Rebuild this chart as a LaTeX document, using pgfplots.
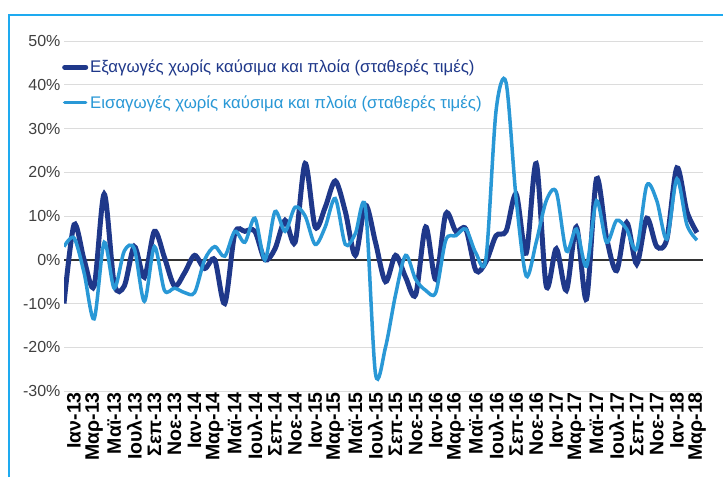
\documentclass[border=0pt]{standalone}
\usepackage{fontspec}
\setmainfont{Liberation Sans}
\usepackage{pgfplots}
\usepackage{pgfplotstable}
\pgfplotsset{compat=1.18}
\definecolor{expc}{RGB}{31,56,138}
\definecolor{impc}{RGB}{41,152,214}
\definecolor{framec}{RGB}{30,170,240}
\definecolor{gridc}{RGB}{220,220,220}
\pgfplotstableread{
i exp imp
-1 -10 3
0 8 5
1 0 -3
2 -6 -13.5
3 15 4
4 -5.5 -6.5
5 -6 2
6 3 2.5
7 -4 -9.5
8 6.5 3
9 0.5 -7
10 -6 -6.5
11 -3 -7.5
12 1 -7.5
13 -2 0
14 0 3
15 -10 0.8
16 6 6.5
17 6.5 4
18 6.5 9.5
19 0 0
20 2.5 11
21 9 6.5
22 4 12
23 22 10
24 7.5 3.5
25 12 7.5
26 18 14
27 11 3.5
28 1 6
29 12.5 12
30 4 -26
31 -5 -20
32 1 -8
33 -4 1
34 -8 -4.5
35 7.5 -7
36 -4.5 -7.5
37 10.5 4.5
38 6.5 5.5
39 7 7
40 -2.5 1.5
41 -0.5 0.3
42 5.5 34
43 6.5 40.5
44 15 14
45 1.5 -3.7
46 22 4
47 -6 13.5
48 2.5 15.5
49 -7 2
50 7.5 7
51 -9 -1.5
52 18.5 13.5
53 5 4
54 -2.5 9
55 8.5 7
56 -1 2.5
57 9.5 17
58 3 13.5
59 4.7 4.7
60 21 18.5
61 11 8
62 6.2 4.5
}\datatable
\begin{document}
\begin{tikzpicture}[x=1pt,y=1pt]
\useasboundingbox (0,0) rectangle (723,477);
\fill[white] (0,0) rectangle (723,477);
\draw[framec, line width=2pt] (9,0) -- (9,462) -- (724,462);
\begin{axis}[
  at={(64pt,86pt)}, anchor=south west, scale only axis,
  width=639pt, height=350pt,
  xmin=-1, xmax=62.6, ymin=-30, ymax=50,
  axis line style={draw=none}, tick style={draw=none},
  ytick={-30,-20,...,50},
  yticklabels={-30\%,-20\%,-10\%,0\%,10\%,20\%,30\%,40\%,50\%},
  ymajorgrids, grid style={gridc, line width=0.8pt},
  extra y ticks={0}, extra y tick labels={},
  extra y tick style={grid style={black!80, line width=1.6pt}},
  xtick={0,2,...,62},
  xticklabels={Ιαν-13,Μαρ-13,Μαϊ-13,Ιουλ-13,Σεπ-13,Νοε-13,
    Ιαν-14,Μαρ-14,Μαϊ-14,Ιουλ-14,Σεπ-14,Νοε-14,
    Ιαν-15,Μαρ-15,Μαϊ-15,Ιουλ-15,Σεπ-15,Νοε-15,
    Ιαν-16,Μαρ-16,Μαϊ-16,Ιουλ-16,Σεπ-16,Νοε-16,
    Ιαν-17,Μαρ-17,Μαϊ-17,Ιουλ-17,Σεπ-17,Νοε-17,
    Ιαν-18,Μαρ-18},
  xticklabel style={rotate=90, anchor=east, inner sep=1pt, font=\fontsize{19.5}{19.5}\selectfont\bfseries},
  yticklabel style={font=\fontsize{16}{16}\selectfont, text=black!75},
  legend style={draw=none, fill=none, at={(0,1)}, anchor=north west,
    xshift=-2pt, yshift=-17pt, inner sep=0pt, row sep=17pt,
    font=\fontsize{16.8}{16.8}\selectfont},
  legend cell align=left,
  legend image code/.code={\draw[#1, line cap=round] (0pt,0pt) -- (21pt,0pt);},
]
\addplot[expc, line width=5pt, smooth, tension=0.5] table[x=i, y=exp] {\datatable};
\addlegendentry{\textcolor{expc}{Εξαγωγές χωρίς καύσιμα και πλοία (σταθερές τιμές)}}
\addplot[impc, line width=3.5pt, smooth, tension=0.5] table[x=i, y=imp] {\datatable};
\addlegendentry{\textcolor{impc}{Εισαγωγές χωρίς καύσιμα και πλοία (σταθερές τιμές)}}
\end{axis}
\end{tikzpicture}
\end{document}
